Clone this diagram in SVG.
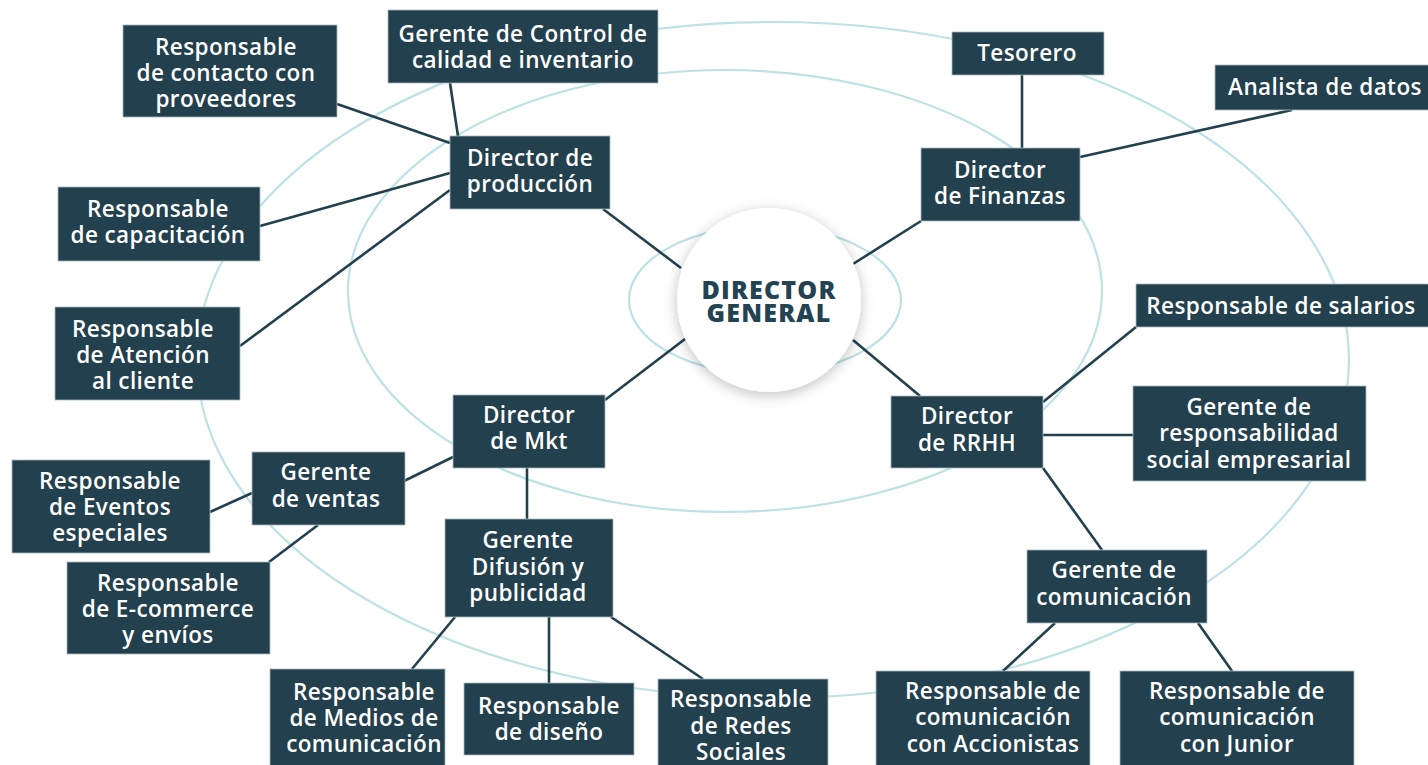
<svg xmlns="http://www.w3.org/2000/svg" width="1428" height="765" viewBox="0 0 1428 765">
<defs>
<filter id="sh" x="-30%" y="-30%" width="160%" height="160%">
<feGaussianBlur in="SourceAlpha" stdDeviation="7"/>
<feOffset dx="0" dy="3" result="b"/>
<feComponentTransfer><feFuncA type="linear" slope="0.25"/></feComponentTransfer>
<feMerge><feMergeNode/><feMergeNode in="SourceGraphic"/></feMerge>
</filter>
</defs>
<style>
.ring{fill:none;stroke:#bde2e6;stroke-width:2.2}
.box{fill:#22404d;stroke:#a9b8be;stroke-width:0.8}
.t{font-family:"Open Sans","DejaVu Sans",sans-serif;font-weight:600;font-size:22.5px;letter-spacing:0.4px;fill:#ffffff;text-anchor:middle}
.c{stroke:#22404d;stroke-width:2.6;fill:none}
.dg{font-family:"Open Sans","DejaVu Sans",sans-serif;font-weight:800;font-size:25px;fill:#234352;text-anchor:middle;letter-spacing:1.2px}
</style>
<rect width="1428" height="765" fill="#ffffff"/>
<g id="rings">
<ellipse class="ring" cx="773" cy="360" rx="576" ry="338"/>
<ellipse class="ring" cx="725" cy="291" rx="377" ry="221"/>
<ellipse class="ring" cx="765" cy="300" rx="136" ry="74"/>
</g>
<g id="connectors">
<line class="c" x1="681" y1="268" x2="603" y2="209"/>
<line class="c" x1="853" y1="264" x2="921" y2="221"/>
<line class="c" x1="685" y1="339" x2="605" y2="400"/>
<line class="c" x1="853" y1="340" x2="920" y2="396"/>
<line class="c" x1="337" y1="104" x2="450" y2="143"/>
<line class="c" x1="450" y1="83" x2="458" y2="136"/>
<line class="c" x1="260" y1="226" x2="450" y2="173"/>
<line class="c" x1="240" y1="346" x2="450" y2="190"/>
<line class="c" x1="1022" y1="75" x2="1022" y2="148"/>
<line class="c" x1="1080" y1="157" x2="1292" y2="110"/>
<line class="c" x1="1043" y1="402" x2="1136" y2="327"/>
<line class="c" x1="1043" y1="435" x2="1133" y2="435"/>
<line class="c" x1="1043" y1="468" x2="1102" y2="550"/>
<line class="c" x1="1055" y1="623" x2="1003" y2="671"/>
<line class="c" x1="1198" y1="623" x2="1232" y2="671"/>
<line class="c" x1="453" y1="457" x2="404" y2="481"/>
<line class="c" x1="527" y1="468" x2="527" y2="519"/>
<line class="c" x1="252" y1="493" x2="210" y2="512"/>
<line class="c" x1="318" y1="525" x2="269" y2="562"/>
<line class="c" x1="455" y1="617" x2="412" y2="669"/>
<line class="c" x1="549" y1="617" x2="549" y2="683"/>
<line class="c" x1="611" y1="617" x2="703" y2="679"/>
</g>
<g id="director-general">
<circle cx="769" cy="300" r="92" fill="#ffffff" filter="url(#sh)"/>
<text class="dg"><tspan x="769" y="299">DIRECTOR</tspan><tspan x="769" y="322">GENERAL</tspan></text>
</g>
<g id="n-contacto"><rect class="box" x="123" y="25" width="214" height="92"/>
<text class="t"><tspan x="226" y="55">Responsable</tspan><tspan x="226" y="81">de contacto con</tspan><tspan x="226" y="107">proveedores</tspan></text></g>
<g id="n-control"><rect class="box" x="388" y="10" width="270" height="73"/>
<text class="t"><tspan x="523" y="42">Gerente de Control de</tspan><tspan x="523" y="68">calidad e inventario</tspan></text></g>
<g id="n-produccion"><rect class="box" x="450" y="136" width="160" height="73"/>
<text class="t"><tspan x="530" y="166">Director de</tspan><tspan x="530" y="192">producción</tspan></text></g>
<g id="n-capacitacion"><rect class="box" x="58" y="187" width="202" height="74"/>
<text class="t"><tspan x="158" y="217">Responsable</tspan><tspan x="158" y="243">de capacitación</tspan></text></g>
<g id="n-atencion"><rect class="box" x="55" y="307" width="185" height="93"/>
<text class="t"><tspan x="143" y="337">Responsable</tspan><tspan x="143" y="363">de Atención</tspan><tspan x="143" y="389">al cliente</tspan></text></g>
<g id="n-tesorero"><rect class="box" x="952" y="32" width="152" height="43"/>
<text class="t"><tspan x="1027" y="61">Tesorero</tspan></text></g>
<g id="n-analista"><rect class="box" x="1215" y="65" width="220" height="45"/>
<text class="t"><tspan x="1325" y="95">Analista de datos</tspan></text></g>
<g id="n-finanzas"><rect class="box" x="921" y="148" width="159" height="73"/>
<text class="t"><tspan x="1000" y="178">Director</tspan><tspan x="1000" y="204">de Finanzas</tspan></text></g>
<g id="n-salarios"><rect class="box" x="1136" y="284" width="300" height="43"/>
<text class="t"><tspan x="1281" y="314">Responsable de salarios</tspan></text></g>
<g id="n-rrhh"><rect class="box" x="891" y="396" width="152" height="72"/>
<text class="t"><tspan x="967" y="424">Director</tspan><tspan x="967" y="451">de RRHH</tspan></text></g>
<g id="n-rse"><rect class="box" x="1133" y="386" width="233" height="95"/>
<text class="t"><tspan x="1249" y="415">Gerente de</tspan><tspan x="1249" y="441">responsabilidad</tspan><tspan x="1249" y="468">social empresarial</tspan></text></g>
<g id="n-comunicacion"><rect class="box" x="1027" y="550" width="180" height="73"/>
<text class="t"><tspan x="1114" y="578">Gerente de</tspan><tspan x="1114" y="605">comunicación</tspan></text></g>
<g id="n-accionistas"><rect class="box" x="876" y="671" width="214" height="100"/>
<text class="t"><tspan x="993" y="699">Responsable de</tspan><tspan x="993" y="725">comunicación</tspan><tspan x="993" y="752">con Accionistas</tspan></text></g>
<g id="n-junior"><rect class="box" x="1120" y="671" width="234" height="100"/>
<text class="t"><tspan x="1237" y="699">Responsable de</tspan><tspan x="1237" y="725">comunicación</tspan><tspan x="1237" y="752">con Junior</tspan></text></g>
<g id="n-mkt"><rect class="box" x="453" y="395" width="152" height="73"/>
<text class="t"><tspan x="529" y="423">Director</tspan><tspan x="529" y="449">de Mkt</tspan></text></g>
<g id="n-ventas"><rect class="box" x="252" y="452" width="153" height="73"/>
<text class="t"><tspan x="326" y="480">Gerente</tspan><tspan x="326" y="507">de ventas</tspan></text></g>
<g id="n-eventos"><rect class="box" x="12" y="460" width="198" height="93"/>
<text class="t"><tspan x="110" y="489">Responsable</tspan><tspan x="110" y="515">de Eventos</tspan><tspan x="110" y="541">especiales</tspan></text></g>
<g id="n-ecommerce"><rect class="box" x="67" y="562" width="203" height="92"/>
<text class="t"><tspan x="168" y="591">Responsable</tspan><tspan x="168" y="617">de E-commerce</tspan><tspan x="168" y="643">y envíos</tspan></text></g>
<g id="n-difusion"><rect class="box" x="445" y="519" width="168" height="98"/>
<text class="t"><tspan x="528" y="548">Gerente</tspan><tspan x="528" y="575">Difusión y</tspan><tspan x="528" y="601">publicidad</tspan></text></g>
<g id="n-medios"><rect class="box" x="270" y="669" width="175" height="100"/>
<text class="t"><tspan x="364" y="700">Responsable</tspan><tspan x="364" y="726">de Medios de</tspan><tspan x="364" y="752">comunicación</tspan></text></g>
<g id="n-diseno"><rect class="box" x="464" y="683" width="170" height="72"/>
<text class="t"><tspan x="549" y="714">Responsable</tspan><tspan x="549" y="740">de diseño</tspan></text></g>
<g id="n-redes"><rect class="box" x="658" y="679" width="170" height="90"/>
<text class="t"><tspan x="741" y="707">Responsable</tspan><tspan x="741" y="734">de Redes</tspan><tspan x="741" y="760">Sociales</tspan></text></g>
</svg>
